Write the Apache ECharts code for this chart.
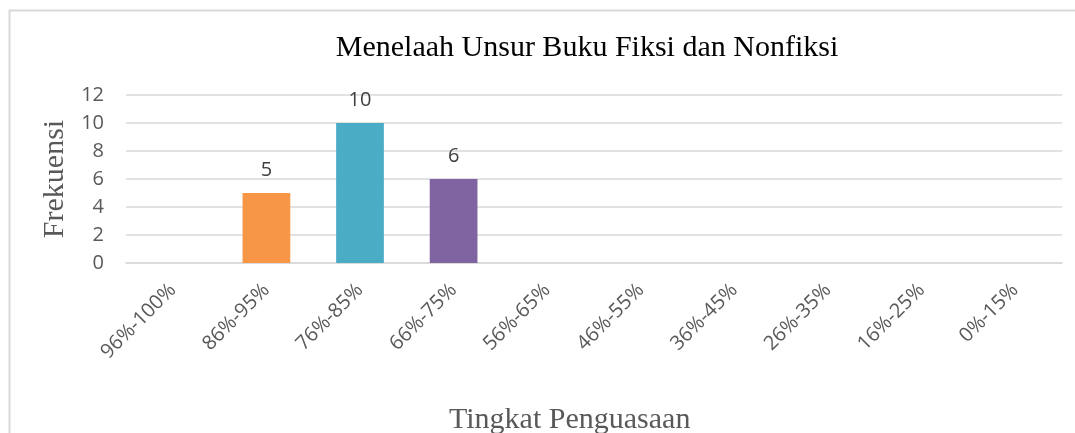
<!DOCTYPE html>
<html>
<head>
<meta charset="utf-8">
<script src="https://cdn.jsdelivr.net/npm/echarts@6/dist/echarts.min.js"></script>
<style>
html,body{margin:0;padding:0;background:#fff;}
#chart{width:1075px;height:433px;}
</style>
</head>
<body>
<div id="chart"></div>
<script>
const categories = ['96%-100%','86%-95%','76%-85%','66%-75%','56%-65%','46%-55%','36%-45%','26%-35%','16%-25%','0%-15%'];
const frekuensi = [0, 5, 10, 6, 0, 0, 0, 0, 0, 0];
const barColors = ['#4F81BD','#F79646','#4BACC6','#8064A2','#9BBB59','#C0504D','#4F81BD','#F79646','#4BACC6','#8064A2'];
const yTicks = [0, 2, 4, 6, 8, 10, 12];

const chart = echarts.init(document.getElementById('chart'), null, {renderer:'canvas'});
const serif = '"Liberation Serif", "Times New Roman", serif';
const sans = '"Open Sans", "Liberation Sans", sans-serif';
chart.setOption({
  animation: false,
  backgroundColor: '#fff',
  title: {
    text: 'Menelaah Unsur Buku Fiksi dan Nonfiksi',
    left: 582, top: 28, textAlign: 'center',
    textStyle: {fontFamily: serif, fontSize: 30, fontWeight: 'normal', color: '#000'}
  },
  graphic: [
    {type:'rect', shape:{x:9.5, y:10.5, width:1080, height:440}, style:{fill:'none', stroke:'#d9d9d9', lineWidth:2}, silent:true},
    {type:'text', left: 449, top: 405, style:{text:'Tingkat Penguasaan', font:'30px ' + serif, fill:'#595959'}}
  ],
  grid: {left:126, right:13, top:95, bottom:170, containLabel:false},
  xAxis: {
    type: 'category',
    data: categories,
    axisLine: {lineStyle:{color:'#d9d9d9', width:1.5}},
    axisTick: {show:false},
    axisLabel: {rotate:45, margin:24, interval:0, fontFamily: sans, fontSize:20, color:'#595959'}
  },
  yAxis: {
    type: 'value',
    min: yTicks[0], max: yTicks[yTicks.length-1], interval: 2,
    name: 'Frekuensi',
    nameLocation: 'middle',
    nameGap: 56,
    nameRotate: 90,
    nameTextStyle: {fontFamily: serif, fontSize: 30, color:'#595959'},
    axisLine: {show:false},
    axisTick: {show:false},
    splitLine: {lineStyle:{color:'#d9d9d9', width:1.5}},
    axisLabel: {margin:22, fontFamily: sans, fontSize:20, color:'#595959'}
  },
  series: [{
    type: 'bar',
    barWidth: '51%',
    data: frekuensi.map((v,i)=>({value:v, itemStyle:{color:barColors[i]}})),
    label: {
      show: true, position: 'top', distance: 13,
      fontFamily: sans, fontSize: 20, color:'#404040',
      formatter: p => p.value === 0 ? '' : String(p.value)
    }
  }]
});
</script>
</body>
</html>
